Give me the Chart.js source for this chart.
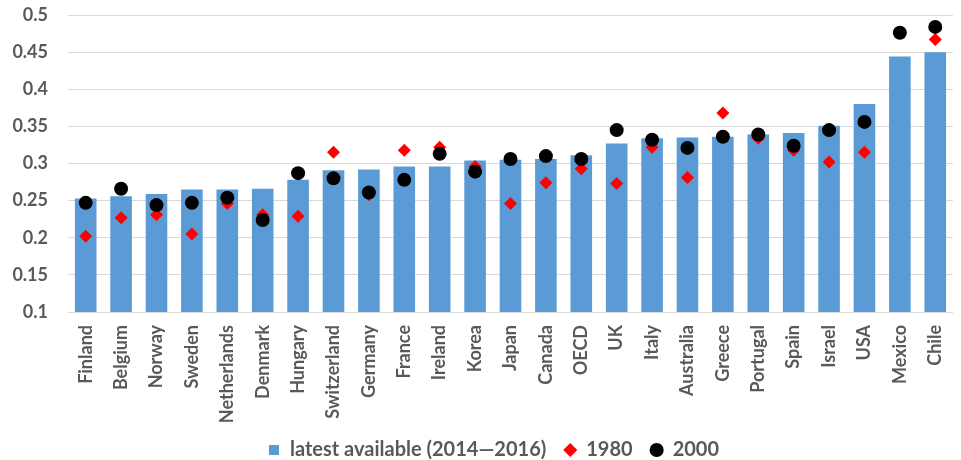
<!DOCTYPE html>
<html>
<head>
<meta charset="utf-8">
<script src="https://cdn.jsdelivr.net/npm/chart.js@4/dist/chart.umd.min.js"></script>
<style>
    html, body { margin: 0; padding: 0; background: #fff; }
    #wrap { width: 961px; height: 460px; }
</style>
</head>
<body>
<div id="wrap"><canvas id="chart"></canvas></div>
<script>
// Countries, left to right
const countries = ['Finland', 'Belgium', 'Norway', 'Sweden', 'Netherlands', 'Denmark', 'Hungary',
    'Switzerland', 'Germany', 'France', 'Ireland', 'Korea', 'Japan', 'Canada', 'OECD', 'UK', 'Italy',
    'Australia', 'Greece', 'Portugal', 'Spain', 'Israel', 'USA', 'Mexico', 'Chile'];

// latest available (2014-2016)
const latest = [0.253, 0.256, 0.259, 0.265, 0.265, 0.266, 0.278, 0.291, 0.292, 0.296, 0.296, 0.304,
    0.305, 0.306, 0.311, 0.327, 0.334, 0.335, 0.336, 0.339, 0.341, 0.351, 0.380, 0.444, 0.450];

// 1980 values (Mexico missing)
const y1980 = [0.202, 0.227, 0.231, 0.205, 0.246, 0.231, 0.229, 0.315, 0.258, 0.318, 0.322, 0.296,
    0.246, 0.274, 0.293, 0.273, 0.322, 0.281, 0.368, 0.334, 0.318, 0.302, 0.315, null, 0.467];

// 2000 values
const y2000 = [0.247, 0.266, 0.244, 0.247, 0.254, 0.224, 0.287, 0.280, 0.261, 0.278, 0.313, 0.289,
    0.306, 0.310, 0.306, 0.345, 0.332, 0.321, 0.336, 0.339, 0.324, 0.345, 0.356, 0.476, 0.484];
</script>
<script>
document.addEventListener('DOMContentLoaded', function () {
    const family = 'Lato, "Liberation Sans", sans-serif';
    const tickFont = { family: family, size: 18, weight: 'bold' };
    const legendFont = { family: family, size: 20, weight: 'bold', lineHeight: 1 };
    const textColor = '#595959';

    // Legend sits a little right of the canvas centre in the original
    const shiftLegend = {
        id: 'shiftLegend',
        afterLayout(chart) {
            chart.legend.left += 10;
            chart.legend.right += 10;
        },
    };

    new Chart(document.getElementById('chart').getContext('2d'), {
        type: 'bar',
        data: {
            labels: countries,
            datasets: [
                {
                    label: 'latest available (2014\u20142016)',
                    data: latest,
                    backgroundColor: '#5b9bd5',
                    barPercentage: 0.61,
                    categoryPercentage: 1,
                    pointStyle: 'rect',
                    order: 3,
                },
                {
                    type: 'line',
                    label: '1980',
                    data: y1980,
                    showLine: false,
                    pointStyle: 'rectRot',
                    pointRadius: 6.5,
                    backgroundColor: '#ff0000',
                    borderColor: '#ff0000',
                    borderWidth: 0,
                    order: 2,
                },
                {
                    type: 'line',
                    label: '2000',
                    data: y2000,
                    showLine: false,
                    pointStyle: 'circle',
                    pointRadius: 7,
                    backgroundColor: '#000000',
                    borderColor: '#000000',
                    borderWidth: 0,
                    order: 1,
                },
            ],
        },
        plugins: [shiftLegend],
        options: {
            responsive: true,
            maintainAspectRatio: false,
            animation: false,
            // right side of the plot is cut off in the original
            layout: { padding: { top: 15, right: -6, left: 0, bottom: -10 } },
            plugins: {
                tooltip: { enabled: false },
                legend: {
                    position: 'bottom',
                    labels: {
                        usePointStyle: true,
                        boxHeight: 10,
                        boxWidth: 12,
                        padding: 18,
                        color: textColor,
                        font: legendFont,
                        sort: (a, b) => a.datasetIndex - b.datasetIndex,
                    },
                },
            },
            scales: {
                x: {
                    grid: { display: false, tickLength: 9 },
                    border: { color: '#d9d9d9' },
                    ticks: {
                        color: textColor,
                        font: tickFont,
                        maxRotation: 90,
                        minRotation: 90,
                        autoSkip: false,
                        padding: 4,
                    },
                    afterFit: scale => { scale.height = 110; },
                },
                y: {
                    min: 0.1,
                    max: 0.5,
                    grid: { color: '#d9d9d9', drawTicks: false },
                    border: { display: false },
                    ticks: {
                        stepSize: 0.05,
                        color: textColor,
                        font: tickFont,
                        padding: 20,
                        callback: v => +v.toFixed(2),
                    },
                    afterFit: scale => {
                        scale.width = 68;
                        scale.paddingTop = 0;
                        scale.paddingBottom = 0;
                    },
                },
            },
        },
    });
});
</script>
</body>
</html>
